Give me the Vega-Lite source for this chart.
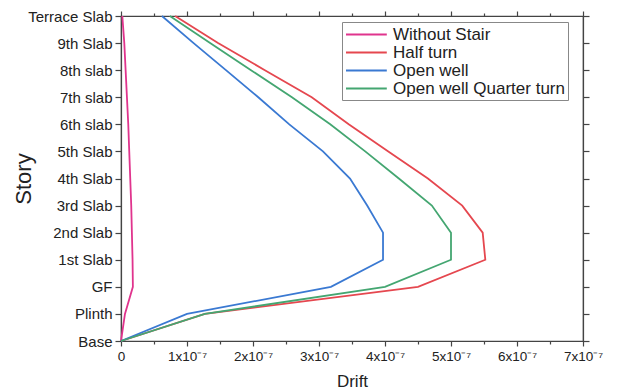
{
  "$schema": "https://vega.github.io/schema/vega-lite/v6.json",
  "width": 462,
  "height": 325,
  "autosize": {"type": "none"},
  "padding": {"left": 121, "top": 16, "right": 37, "bottom": 51},
  "background": "white",
  "config": {
    "view": {"stroke": "#444", "strokeWidth": 1.2},
    "font": "Liberation Sans",
    "axis": {"domainColor": "#444", "tickColor": "#444", "labelColor": "#222", "titleColor": "#222", "labelFont": "Liberation Sans", "titleFont": "Liberation Sans", "grid": false, "titleFontWeight": "normal", "domainWidth": 1.2, "tickWidth": 1.2}
  },
  "data": {"values": [
    {"series": "Without Stair", "story": "Base", "level": 0, "drift": 0},
    {"series": "Without Stair", "story": "Plinth", "level": 1, "drift": 0.06e-7},
    {"series": "Without Stair", "story": "GF", "level": 2, "drift": 0.18e-7},
    {"series": "Without Stair", "story": "1st Slab", "level": 3, "drift": 0.175e-7},
    {"series": "Without Stair", "story": "2nd Slab", "level": 4, "drift": 0.165e-7},
    {"series": "Without Stair", "story": "3rd Slab", "level": 5, "drift": 0.155e-7},
    {"series": "Without Stair", "story": "4th Slab", "level": 6, "drift": 0.14e-7},
    {"series": "Without Stair", "story": "5th Slab", "level": 7, "drift": 0.125e-7},
    {"series": "Without Stair", "story": "6th slab", "level": 8, "drift": 0.11e-7},
    {"series": "Without Stair", "story": "7th slab", "level": 9, "drift": 0.09e-7},
    {"series": "Without Stair", "story": "8th slab", "level": 10, "drift": 0.07e-7},
    {"series": "Without Stair", "story": "9th Slab", "level": 11, "drift": 0.05e-7},
    {"series": "Without Stair", "story": "Terrace Slab", "level": 12, "drift": 0.02e-7},
    {"series": "Half turn", "story": "Base", "level": 0, "drift": 0},
    {"series": "Half turn", "story": "Plinth", "level": 1, "drift": 1.27e-7},
    {"series": "Half turn", "story": "GF", "level": 2, "drift": 4.5e-7},
    {"series": "Half turn", "story": "1st Slab", "level": 3, "drift": 5.52e-7},
    {"series": "Half turn", "story": "2nd Slab", "level": 4, "drift": 5.48e-7},
    {"series": "Half turn", "story": "3rd Slab", "level": 5, "drift": 5.17e-7},
    {"series": "Half turn", "story": "4th Slab", "level": 6, "drift": 4.65e-7},
    {"series": "Half turn", "story": "5th Slab", "level": 7, "drift": 4.05e-7},
    {"series": "Half turn", "story": "6th slab", "level": 8, "drift": 3.45e-7},
    {"series": "Half turn", "story": "7th slab", "level": 9, "drift": 2.89e-7},
    {"series": "Half turn", "story": "8th slab", "level": 10, "drift": 2.18e-7},
    {"series": "Half turn", "story": "9th Slab", "level": 11, "drift": 1.47e-7},
    {"series": "Half turn", "story": "Terrace Slab", "level": 12, "drift": 0.82e-7},
    {"series": "Open well", "story": "Base", "level": 0, "drift": 0},
    {"series": "Open well", "story": "Plinth", "level": 1, "drift": 1.0e-7},
    {"series": "Open well", "story": "GF", "level": 2, "drift": 3.18e-7},
    {"series": "Open well", "story": "1st Slab", "level": 3, "drift": 3.97e-7},
    {"series": "Open well", "story": "2nd Slab", "level": 4, "drift": 3.97e-7},
    {"series": "Open well", "story": "3rd Slab", "level": 5, "drift": 3.73e-7},
    {"series": "Open well", "story": "4th Slab", "level": 6, "drift": 3.47e-7},
    {"series": "Open well", "story": "5th Slab", "level": 7, "drift": 3.06e-7},
    {"series": "Open well", "story": "6th slab", "level": 8, "drift": 2.55e-7},
    {"series": "Open well", "story": "7th slab", "level": 9, "drift": 2.08e-7},
    {"series": "Open well", "story": "8th slab", "level": 10, "drift": 1.59e-7},
    {"series": "Open well", "story": "9th Slab", "level": 11, "drift": 1.1e-7},
    {"series": "Open well", "story": "Terrace Slab", "level": 12, "drift": 0.62e-7},
    {"series": "Open well Quarter turn", "story": "Base", "level": 0, "drift": 0},
    {"series": "Open well Quarter turn", "story": "Plinth", "level": 1, "drift": 1.27e-7},
    {"series": "Open well Quarter turn", "story": "GF", "level": 2, "drift": 4.0e-7},
    {"series": "Open well Quarter turn", "story": "1st Slab", "level": 3, "drift": 5.0e-7},
    {"series": "Open well Quarter turn", "story": "2nd Slab", "level": 4, "drift": 5.0e-7},
    {"series": "Open well Quarter turn", "story": "3rd Slab", "level": 5, "drift": 4.71e-7},
    {"series": "Open well Quarter turn", "story": "4th Slab", "level": 6, "drift": 4.21e-7},
    {"series": "Open well Quarter turn", "story": "5th Slab", "level": 7, "drift": 3.7e-7},
    {"series": "Open well Quarter turn", "story": "6th slab", "level": 8, "drift": 3.17e-7},
    {"series": "Open well Quarter turn", "story": "7th slab", "level": 9, "drift": 2.59e-7},
    {"series": "Open well Quarter turn", "story": "8th slab", "level": 10, "drift": 1.97e-7},
    {"series": "Open well Quarter turn", "story": "9th Slab", "level": 11, "drift": 1.35e-7},
    {"series": "Open well Quarter turn", "story": "Terrace Slab", "level": 12, "drift": 0.74e-7}
  ]},
  "layer": [
    {
      "mark": {"type": "line", "strokeWidth": 1.8},
      "encoding": {
        "x": {"field": "drift", "type": "quantitative", "scale": {"domain": [0, 7e-7], "nice": false, "zero": true},
          "axis": {"orient": "bottom", "title": "Drift", "titleFontSize": 17, "titlePadding": 11, "labelFontSize": 13.5, "labelPadding": 3, "labelFlush": false, "labelOverlap": false,
            "tickSize": {"condition": {"test": "abs(datum.value * 1e7 - round(datum.value * 1e7)) < 0.01", "value": 5}, "value": 3},
            "values": [0, 0.5e-7, 1e-7, 1.5e-7, 2e-7, 2.5e-7, 3e-7, 3.5e-7, 4e-7, 4.5e-7, 5e-7, 5.5e-7, 6e-7, 6.5e-7, 7e-7],
            "labelExpr": "abs(datum.value * 1e7 - round(datum.value * 1e7)) > 0.01 ? '' : (datum.value == 0 ? '0' : format(round(datum.value * 1e7), 'd') + 'x10⁻⁷')"}},
        "y": {"field": "story", "type": "ordinal", "sort": ["Terrace Slab", "9th Slab", "8th slab", "7th slab", "6th slab", "5th Slab", "4th Slab", "3rd Slab", "2nd Slab", "1st Slab", "GF", "Plinth", "Base"],
          "scale": {"type": "point", "padding": 0},
          "axis": {"orient": "left", "title": "Story", "titleFontSize": 22, "titleX": -86, "labelFontSize": 15, "labelPadding": 3, "tickSize": 6}},
        "color": {"field": "series", "type": "nominal",
          "scale": {"domain": ["Without Stair", "Half turn", "Open well", "Open well Quarter turn"], "range": ["#e0348d", "#e5474f", "#3a79d2", "#44a671"]},
          "legend": {"title": null, "orient": "none", "legendX": 221, "legendY": 6, "symbolType": "M-1,0H3.8", "symbolSize": 289, "symbolStrokeWidth": 1.8, "labelFontSize": 17, "labelLimit": 400, "labelColor": "#222", "strokeColor": "#888", "padding": 3, "rowPadding": 0, "labelOffset": 29, "fillColor": "white"}},
        "order": {"field": "level", "type": "quantitative"}
      }
    },
    {
      "mark": {"type": "point", "opacity": 0},
      "encoding": {
        "x": {"field": "drift", "type": "quantitative",
          "axis": {"orient": "top", "title": null, "labels": false,
            "tickSize": {"condition": {"test": "abs(datum.value * 1e7 - round(datum.value * 1e7)) < 0.01", "value": 5}, "value": 3},
            "values": [0, 0.5e-7, 1e-7, 1.5e-7, 2e-7, 2.5e-7, 3e-7, 3.5e-7, 4e-7, 4.5e-7, 5e-7, 5.5e-7, 6e-7, 6.5e-7, 7e-7]}},
        "y": {"field": "story", "type": "ordinal", "sort": ["Terrace Slab", "9th Slab", "8th slab", "7th slab", "6th slab", "5th Slab", "4th Slab", "3rd Slab", "2nd Slab", "1st Slab", "GF", "Plinth", "Base"],
          "axis": {"orient": "right", "title": null, "labels": false, "tickSize": 6}}
      }
    }
  ]
}
